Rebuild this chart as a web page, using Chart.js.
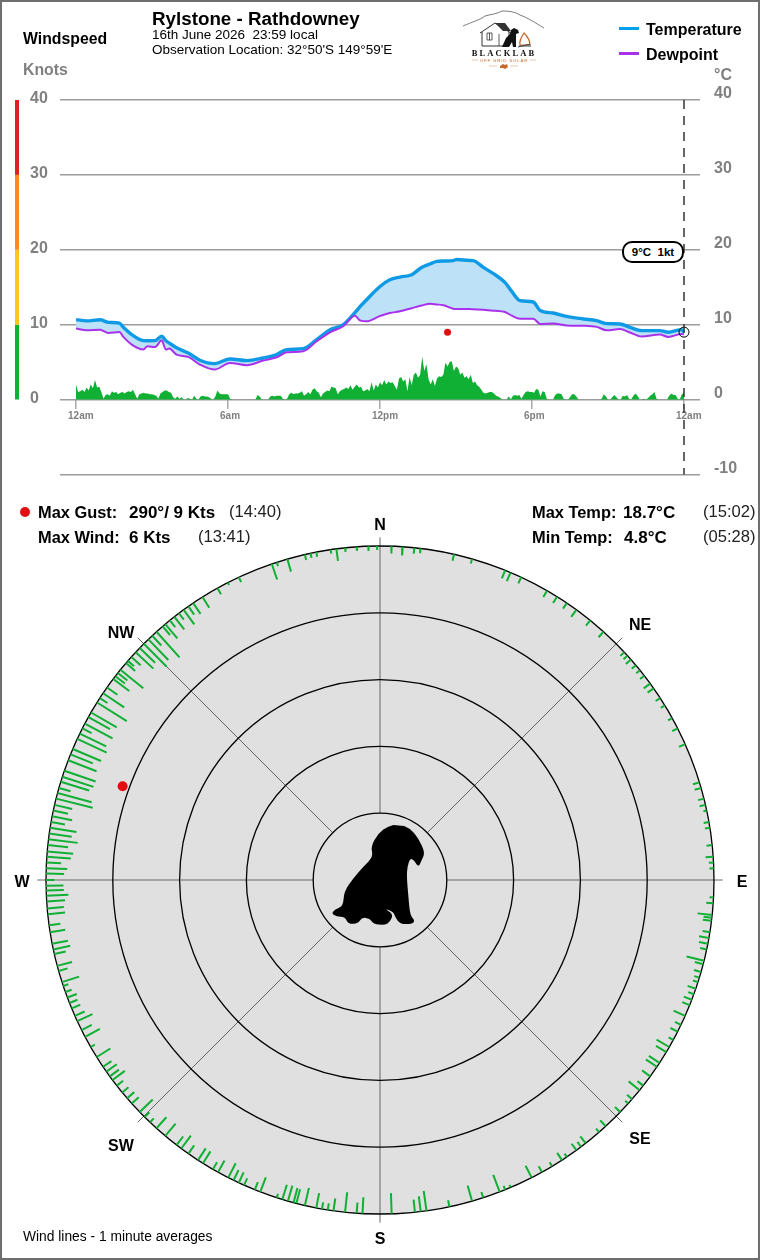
<!DOCTYPE html>
<html>
<head>
<meta charset="utf-8">
<title>Rylstone - Rathdowney</title>
<script src="https://cdn.jsdelivr.net/npm/chart.js@4/dist/chart.umd.js"></script>
<style>
  html, body { margin: 0; padding: 0; background: #fff; }
  #page { position: relative; width: 760px; height: 1260px; overflow: hidden; font-family: "Liberation Sans", Arial, sans-serif; color: #000; }
  #frame { position: absolute; inset: 0; border: 2px solid #6e6e6e; box-sizing: border-box; pointer-events: none; z-index: 5; }
  canvas { position: absolute; left: 0; }
  #trend { top: 0; }
  #rose { top: 490px; }
  .t { position: absolute; white-space: pre; line-height: 1; z-index: 3; }
  .b { font-weight: bold; }
  .stat { font-size: 16.4px; font-weight: bold; }
  .val { font-size: 17px; font-weight: bold; }
  .when { font-size: 16.6px; color: #222; }
  .compass { font-size: 16px; font-weight: bold; transform: translate(-50%, -50%); }
  .key { position: absolute; left: 619px; width: 20px; height: 3px; z-index: 3; }
  #pill { position: absolute; left: 622px; top: 241px; width: 62px; height: 22px; box-sizing: border-box; border: 2px solid #000; border-radius: 10px; background: #fff; font: bold 11.5px "Liberation Sans", Arial, sans-serif; line-height: 18px; text-align: center; white-space: pre; z-index: 3; }
  #logo { position: absolute; left: 455px; top: 5px; z-index: 3; }
</style>
</head>
<body>
<div id="page">
  <canvas id="trend" width="760" height="498"></canvas>
  <canvas id="rose" width="760" height="770"></canvas>

  <div class="t b" style="left:152px;top:10px;font-size:18.8px">Rylstone - Rathdowney</div>
  <div class="t" style="left:152px;top:28px;font-size:13.5px">16th June 2026  23:59 local</div>
  <div class="t" style="left:152px;top:43px;font-size:13.5px">Observation Location: 32°50'S 149°59'E</div>
  <div class="t b" style="left:23px;top:31px;font-size:15.8px">Windspeed</div>
  <div class="t b" style="left:23px;top:62px;font-size:15.8px;color:#808080">Knots</div>
  <div class="t b" style="left:714px;top:67px;font-size:16px;color:#808080">°C</div>

  <div class="key" style="top:27px;background:#00a0f0"></div>
  <div class="t b" style="left:646px;top:22px;font-size:16px">Temperature</div>
  <div class="key" style="top:52px;background:#a832ec"></div>
  <div class="t b" style="left:646px;top:47px;font-size:16px">Dewpoint</div>

  <svg id="logo" width="95" height="70" viewBox="455 5 95 70">
    <path d="M463 26 C472 22 480 20 485 16 C492 14 497 14 502 11 C510 11 515 12 520 15 C528 18 534 22 544 28" fill="none" stroke="#444" stroke-width="0.7"/>
    <path d="M480 33 L495 23 L511 33 M482 32 V46 H509 V32" fill="none" stroke="#333" stroke-width="1"/>
    <path d="M495 23 L505 23 L511 31 L503 31 Z" fill="#333"/>
    <path d="M487 33 H492 V40 H487 Z M489.5 33 V40 M499 34 V46" fill="none" stroke="#333" stroke-width="0.8"/>
    <path d="M502 47 L506 38 L510 34 L511 30 L514 28 L518 30 L519 33 L516 34 L516 47 L513 47 L512 42 L509 47 Z" fill="#111"/>
    <path d="M524 33 C521 38 519 41 520 45 L530 45 C530 40 528 37 524 33 Z" fill="none" stroke="#c8682c" stroke-width="1.2"/>
    <path d="M519 46 L531 46 M518 47 L530 44" stroke="#444" stroke-width="1"/>
    <text x="504" y="56" text-anchor="middle" font-family="Liberation Serif" font-weight="bold" font-size="8.5" letter-spacing="2.1" fill="#111">BLACKLAB</text>
    <text x="504" y="62" text-anchor="middle" font-family="Liberation Sans" font-size="4.4" letter-spacing="0.8" fill="#c8682c">OFF GRID SOLAR</text>
    <path d="M472 60 H478 M530 60 H536 M489 66 H497 M510 66 H518" stroke="#e8c8b0" stroke-width="1"/>
    <path d="M500 66 L503 64 L505 65 L507 64 L508 67 L505 69 L503 68 L500 68 Z" fill="#c8682c"/>
  </svg>

  <div id="pill">9°C  1kt</div>

  <div class="t stat" style="left:38px;top:504px">Max Gust:</div>
  <div class="t val" style="left:129px;top:504px">290°/ 9 Kts</div>
  <div class="t when" style="left:229px;top:504px">(14:40)</div>
  <div class="t stat" style="left:38px;top:529px">Max Wind:</div>
  <div class="t val" style="left:129px;top:529px">6 Kts</div>
  <div class="t when" style="left:198px;top:529px">(13:41)</div>
  <div class="t stat" style="left:532px;top:504px">Max Temp:</div>
  <div class="t val" style="left:623px;top:504px">18.7°C</div>
  <div class="t when" style="left:703px;top:504px">(15:02)</div>
  <div class="t stat" style="left:532px;top:529px">Min Temp:</div>
  <div class="t val" style="left:624px;top:529px">4.8°C</div>
  <div class="t when" style="left:703px;top:529px">(05:28)</div>
  <div class="t" style="left:20px;top:507px;width:10px;height:10px;border-radius:50%;background:#e01010"></div>

  <div class="t compass" style="left:380px;top:525px">N</div>
  <div class="t compass" style="left:380px;top:1239px">S</div>
  <div class="t compass" style="left:22px;top:882px">W</div>
  <div class="t compass" style="left:742px;top:882px">E</div>
  <div class="t compass" style="left:121px;top:633px">NW</div>
  <div class="t compass" style="left:640px;top:625px">NE</div>
  <div class="t compass" style="left:121px;top:1146px">SW</div>
  <div class="t compass" style="left:640px;top:1139px">SE</div>
  <div class="t" style="left:23px;top:1230px;font-size:13.8px">Wind lines - 1 minute averages</div>
  <div id="frame"></div>
</div>

<script>
/* weather station day page: trend chart plus wind rose */

const GREY = '#808080'
const GRID = '#9c9c9c'
const WIND_GREEN = '#0fb033'

// Trend axis
const hourTicks = [0, 6, 12, 18, 24]
const hourLabels = ['12am', '6am', '12pm', '6pm', '12am']
const speedBands = [
  { from: 0,  to: 10, color: '#10b030' },
  { from: 10, to: 20, color: '#ffc61a' },
  { from: 20, to: 30, color: '#ff8c1a' },
  { from: 30, to: 40, color: '#e01f1f' },
]

// Temperature and dewpoint, hours since midnight
const obsHours = [0,.42,.95,1.28,1.71,1.87,2.2,2.66,2.82,3.12,3.38,3.55,3.68,3.97,4.43,4.89,5.47,6.08,6.74,7.39,7.92,8.32,8.97,9.5,10.03,10.55,11.01,11.21,11.47,12,
  12.39,12.79,13.25,13.64,13.97,14.24,14.5,14.89,15.03,15.55,15.68,16.08,16.54,16.93,17.2,17.53,18.05,18.32,18.84,19.37,20.03,20.55,20.95,21.47,21.87,22.33,23.05,23.38,23.91,24]
const temperature = [10.67,10.5,10.65,10.3,10.2,9.65,8.67,7.87,7.85,7.87,8.44,7.85,7.55,6.9,6.2,5.25,4.8,5.42,5.2,5.55,6,6.67,6.8,8,9.33,10,11.6,12.4,13.33,15.1,
  16,16.35,16.67,17.64,18.1,18.44,18.5,18.55,18.7,18.57,18.55,17.64,16.67,15.64,14.44,13.2,13.02,11.9,11.55,11.1,10.76,10.53,10.13,10.09,9.64,9.2,9.2,8.98,9.33,9]
const dewpoint = [9.47,9.24,9.33,8.89,9.02,8.36,7.33,6.67,7.1,7,7.9,6.67,6.8,6,5.69,4.67,4,4.89,4.58,5.2,5.64,6.3,6.44,7.78,8.98,9.78,11.2,10.57,10.44,11.15,
  11.55,11.78,12.2,12.55,12.8,12.7,12.58,12.13,12.1,12.08,12.05,12,11.85,11.69,11.2,10.8,10.8,10.1,10.15,9.9,9.85,9.7,9.24,9.42,8.95,8.4,8.67,8.36,8.76,8.7]

// Wind speed in knots, one reading every 5 minutes
const windStepHours = 5 / 60
const windKts = [
  2,1,1.1,1.3,1,1.6,1.2,2,1.5,2.6,1.6,1.7,1,.1,.6,.7,.5,1.1,.9,1,.7,.9,1,.8,
  1,1.1,1,1.3,.7,.1,.7,.8,.9,.8,.8,.7,.7,.6,.5,.1,.8,1,1.2,1.2,1,.9,.3,.1,
  .4,.1,.3,0,0,.2,.1,0,.5,.1,0,.4,.5,.4,.4,.3,.1,0,.4,1.2,.8,.7,.7,.7,
  .7,.1,0,0,0,0,0,0,0,0,0,0,0,0,.6,.4,0,0,0,0,.4,.5,.4,.5,.5,.5,
  .1,0,.1,.7,.9,.7,.8,.8,.9,1.1,.5,.7,1,.7,1.3,1.5,1.1,.9,.3,.8,1,1.2,1.1,1.7,
  1.6,1.5,.7,1.1,1.3,1.4,1.6,1.4,1.9,1.3,1.7,2,1.6,1.7,1.1,1.2,1.4,1.1,2.3,1.2,2,1.6,2.3,1.9,
  2.6,2,2.4,2.2,2.3,1.8,1.3,2.8,3,2.4,2.7,1.1,3,1.9,3.3,3.6,2.9,3.3,5.7,3.8,4.7,2.7,2,2.7,
  1.8,2.8,3.1,3,3.3,4.9,4.4,5,5.1,3.8,4.4,4.2,3.3,3.6,2.9,3.1,2.7,3.3,2.2,2.4,1.9,1.7,1.3,.9,
  .8,.9,1,1,.8,.5,.4,.2,0,0,0,.4,.05,.5,.6,.5,.6,.1,.6,1,1.1,1,1,.9,
  1.4,1.3,.4,1.1,1,.1,0,0,0,.6,.8,.8,.7,.1,0,0,.3,.7,.7,.4,0,0,0,0,
  0,0,0,0,0,0,0,.1,.7,.4,0,0,.3,.6,.3,0,0,.5,.4,.6,.1,0,.5,.8,
  .5,0,0,.1,0,.2,.5,.7,1,.1,0,0,0,0,0,.5,.8,.6,.6,.1,0,.7,.9
]

// Latest reading and peak gust
const nowHour = 24
const nowTemp = 9
const gustHour = 14 + 40 / 60
const gustKts = 9
const gustDir = 290

// Wind rose: one line per 1 minute average, direction in degrees and speed in knots
const roseDir = [
  2,3.9,5.9,7,12.8,16,22,23,25,30,32,34,36,39,42,47,47.8,48.7,50,51.1,52.3,54,55,57,58.5,61,63,66,73,74,75.9,77,78,80,81,84,86,87,88,
  93,94,96,96.5,97,99,100,101,102,104,104.6,106,107,107.8,109,110,111,112,114,115.7,117,118.6,120,121,123.2,124,126,128,129,131,132,134,137.5,139,142,143,144,146,147,149,151,153,157,158,159,162,164,168,172,173,174,178,
  183,184,186,188,189,190,191,193,194.5,195,196,197,198,201,202,204,205,206,207,209,210,212,213,215,216.5,217.5,220,222,223.5,224.8,226,228,229.2,230.5,232,233.2,234,235,236,238,240,242,243.3,245,246,247.4,248.4,249.4,250.4,251.5,252.2,254.2,255.1,257.2,258,259,261,262.2,264.1,265.1,266.3,267.3,268.2,269,
  270,271.1,272,273,274,274.9,276,277,278,279,280,281,282,283,284.1,285.1,286,287.1,288,289.1,291,292.1,293.1,295,296,297,297.9,299.2,300.1,302.1,303,304,305.2,307,307.6,308.3,309,310.5,311,311.9,313,314,315,316.1,317,318,319.4,320,321,322,323,324,325,326,327.9,330.9,332.9,335,341.1,342,343.9,347,348,349,351.5,352.5,354,356,358,359.5
]
const roseKts = [
  1.1,1.3,.9,.7,1,.7,1.3,1.4,1,1.1,1.1,1,1.3,1,1.1,.8,.8,1,.8,.7,.8,1.2,1.1,.8,.7,.7,.9,1,1,1,.9,.9,.5,.8,.75,.85,1.15,.7,.65,
  .6,1.05,2.2,1.25,1.3,1.1,1.5,1.35,1,2.7,1.3,1.1,.8,.8,1.3,.9,1.3,1.2,1.9,1,1.2,.8,2.2,1.8,1.9,2,1.5,1.1,2.1,1,.6,1.1,1.2,.7,1.3,.9,1.2,.6,1.3,.7,1,2,.4,.6,2.7,.9,2.4,1,3,2.3,1.9,3.1,
  2.45,1.6,3,1.85,1,1,2.25,2.7,2.2,2.25,2.4,2.3,.6,2.3,1.2,1.1,1.7,1.7,2.4,2,1.2,2.1,2.1,1.5,2.4,1.6,2.4,2.2,.8,1,2.7,1.4,1.4,1.2,1.2,2.3,1.7,1.9,1.5,2.4,.7,2.5,1.7,2.5,1.6,1.4,1.3,1.5,1,.8,2.7,1.4,2.3,1.75,2.6,2.4,2.3,1.7,2.6,2.5,2.75,3.3,2.65,2.6,
  1.25,2.7,3.15,2.2,3.6,3.9,3.05,4.4,3.4,4,2.1,3.05,2.25,2.7,5.65,5.3,1.8,4.45,4.9,4.95,4.55,3.6,4.6,4.85,4.4,1.55,4.7,3.7,4.45,5.25,1.35,3.8,1.9,3,1.8,1.8,4.4,1.8,1.2,1.85,3.6,3.2,4.85,4.3,2,5.15,1.7,2.8,1.3,2.4,1.2,2.7,1.5,1.95,1.9,1.05,.4,.8,2.45,.6,1.95,.85,.7,.7,.6,1.8,.6,.6,.7,.6
]
const ringKts = [0, 10, 20, 30, 40]
const spokeDirs = [0, 45, 90, 135, 180, 225, 270, 315]
const ROSE_MAX_KTS = 50   // speed at the centre, the rim is calm

// Dog outline around the rose centre, x and y in knots
const dogOutline = [[2.75,8.4],[4.5,7.75],[5.75,6.25],[6.75,4.1],[6.25,3],[5.75,1.9],[5.1,3],[4.5,3.25],[4.1,2],[4,.5],[4.25,-2.5],[4.5,-5.25],[5.25,-6.1],[4.75,-6.6],[3,-6.6],[2.25,-5.5],[2,-4.75],[.6,-4.25],[2,-5.1],[1.5,-6.25],[.75,-6.75],[-1,-6.6],[-1.5,-5.75],[-2.75,-5.6],[-3.25,-6.5],[-4.75,-6.6],[-5.25,-5.5],[-6.5,-5.5],[-7.25,-5],[-6.75,-4.4],[-5.5,-3.9],[-5.4,-1.75],[-4,.25],[-2.5,2],[-1,3.5],[-1.4,5],[-.25,7],[1.25,8.1]]

// Trend chart decorations
const trendDecor = {
  id: 'trendDecor',
  beforeDatasetsDraw(chart) {
    const { ctx, scales: { y } } = chart
    speedBands.forEach(b => {
      const top = y.getPixelForValue(b.to)
      ctx.fillStyle = b.color
      ctx.fillRect(15, top, 4, y.getPixelForValue(b.from) - top)
    })
  },
  afterDatasetsDraw(chart) {
    const { ctx, chartArea, scales: { x } } = chart
    const px = x.getPixelForValue(nowHour)
    ctx.save()
    ctx.strokeStyle = '#333'
    ctx.lineWidth = 1.5
    ctx.setLineDash([9, 7])
    ctx.beginPath()
    ctx.moveTo(px, chartArea.top)
    ctx.lineTo(px, chartArea.bottom)
    ctx.stroke()
    ctx.restore()
  }
}

new Chart(document.getElementById('trend'), {
  type: 'line',
  data: {
    datasets: [
      {
        label: 'Temperature',
        data: obsHours.map((h, i) => ({ x: h, y: temperature[i] })),
        borderColor: '#0f9ae6',
        borderWidth: 3.4,
        backgroundColor: '#bde1f7',
        fill: { target: 1 },
        pointRadius: 0,
        cubicInterpolationMode: 'monotone',
        order: 2,
      },
      {
        label: 'Dewpoint',
        data: obsHours.map((h, i) => ({ x: h, y: dewpoint[i] })),
        borderColor: '#a832ec',
        borderWidth: 2,
        pointRadius: 0,
        cubicInterpolationMode: 'monotone',
        order: 1,
      },
      {
        label: 'Wind',
        data: windKts.map((v, i) => ({ x: i * windStepHours, y: v })),
        borderWidth: 0,
        backgroundColor: WIND_GREEN,
        fill: 'origin',
        pointRadius: 0,
        tension: 0,
        order: 3,
      },
      {
        label: 'Gust',
        data: [{ x: gustHour, y: gustKts }],
        showLine: false,
        pointRadius: 3.5,
        pointBorderWidth: 0,
        pointBackgroundColor: '#e01010',
        order: 0,
      },
      {
        label: 'Now',
        data: [{ x: nowHour, y: nowTemp }],
        showLine: false,
        pointRadius: 5,
        pointBorderWidth: 1,
        pointBorderColor: '#000',
        pointBackgroundColor: 'rgba(0,0,0,0)',
        order: 0,
      },
    ]
  },
  options: {
    responsive: false,
    animation: false,
    events: [],
    layout: { padding: { left: 30, right: 14, top: 100, bottom: 7 } },
    plugins: { legend: { display: false }, tooltip: { enabled: false } },
    scales: {
      x: {
        type: 'linear',
        position: { y: 0 },
        min: -0.632,
        max: 24.632,
        afterBuildTicks: s => { s.ticks = hourTicks.map(v => ({ value: v })) },
        afterFit: s => { s.height = 0 },
        border: { display: false },
        grid: { drawOnChartArea: false, drawTicks: true, tickLength: 9, color: '#a8a8a8', lineWidth: 1.5 },
        ticks: {
          autoSkip: false,
          maxRotation: 0,
          align: 'start',
          labelOffset: -8,
          padding: 2,
          color: GREY,
          font: { family: 'Liberation Sans', size: 10, weight: 'bold' },
          callback: v => hourLabels[hourTicks.indexOf(v)],
        },
      },
      y: {
        position: 'left',
        min: -10,
        max: 40,
        afterFit: s => { s.width = 30 },
        border: { display: false },
        grid: { color: GRID, lineWidth: 1.5, drawTicks: false },
        ticks: {
          stepSize: 10,
          crossAlign: 'far',
          labelOffset: -1,
          color: GREY,
          font: { family: 'Liberation Sans', size: 16, weight: 'bold' },
          callback: v => (v < 0 ? '' : v),
        },
      },
      y2: {
        position: 'right',
        min: -10,
        max: 40,
        afterFit: s => { s.width = 46 },
        border: { display: false },
        grid: { drawOnChartArea: false, drawTicks: false },
        ticks: {
          stepSize: 10,
          padding: 14,
          labelOffset: -6,
          color: GREY,
          font: { family: 'Liberation Sans', size: 16, weight: 'bold' },
        },
      },
    }
  },
  plugins: [trendDecor],
})

// Speed and direction to rose coordinates
function rosePoint(dir, kts) {
  const a = dir * Math.PI / 180
  const r = ROSE_MAX_KTS - kts
  return { x: r * Math.sin(a), y: r * Math.cos(a) }
}

// Each wind line runs in from the rim, NaN breaks the path between lines
const windLines = []
roseDir.forEach((d, i) => {
  windLines.push(rosePoint(d, 0), rosePoint(d, roseKts[i]), { x: NaN, y: NaN })
})

const roseDecor = {
  id: 'roseDecor',
  beforeDatasetsDraw(chart) {
    const { ctx, scales: { x, y } } = chart
    const cx = x.getPixelForValue(0)
    const cy = y.getPixelForValue(0)
    const unit = x.getPixelForValue(1) - cx

    ctx.save()
    ctx.fillStyle = '#e0e0e0'
    ctx.beginPath()
    ctx.arc(cx, cy, ROSE_MAX_KTS * unit, 0, Math.PI * 2)
    ctx.fill()

    ctx.strokeStyle = '#666'
    ctx.lineWidth = 1
    spokeDirs.forEach(d => {
      const a = d * Math.PI / 180
      const sx = Math.sin(a), cs = Math.cos(a)
      ctx.beginPath()
      ctx.moveTo(cx + 10 * unit * sx, cy - 10 * unit * cs)
      ctx.lineTo(cx + 51.3 * unit * sx, cy - 51.3 * unit * cs)
      ctx.stroke()
    })

    ctx.strokeStyle = '#000'
    ctx.lineWidth = 1.3
    ringKts.forEach(k => {
      ctx.beginPath()
      ctx.arc(cx, cy, (ROSE_MAX_KTS - k) * unit, 0, Math.PI * 2)
      ctx.stroke()
    })

    // dog in the middle, corners rounded through the midpoints
    ctx.fillStyle = '#000'
    ctx.beginPath()
    const pts = dogOutline.map(p => [cx + p[0] * unit, cy - p[1] * unit])
    pts.forEach((p, i) => {
      const n = pts[(i + 1) % pts.length]
      const mx = (p[0] + n[0]) / 2, my = (p[1] + n[1]) / 2
      if (i === 0) ctx.moveTo(mx, my)
      else ctx.quadraticCurveTo(p[0], p[1], mx, my)
    })
    ctx.closePath()
    ctx.fill()
    ctx.restore()
  }
}

new Chart(document.getElementById('rose'), {
  type: 'scatter',
  data: {
    datasets: [
      {
        label: 'Wind',
        data: windLines,
        showLine: true,
        spanGaps: false,
        borderColor: WIND_GREEN,
        borderWidth: 2,
        pointRadius: 0,
      },
      {
        label: 'Gust',
        data: [rosePoint(gustDir, gustKts)],
        pointRadius: 5,
        pointBorderWidth: 0,
        pointBackgroundColor: '#e01010',
      },
    ]
  },
  options: {
    responsive: false,
    animation: false,
    events: [],
    layout: { padding: { left: 12.6, right: 12.6, top: 22.6, bottom: 12.6 } },
    plugins: { legend: { display: false }, tooltip: { enabled: false } },
    scales: {
      x: { type: 'linear', min: -55, max: 55, display: false },
      y: { type: 'linear', min: -55, max: 55, display: false },
    }
  },
  plugins: [roseDecor],
})
</script>
</body>
</html>
